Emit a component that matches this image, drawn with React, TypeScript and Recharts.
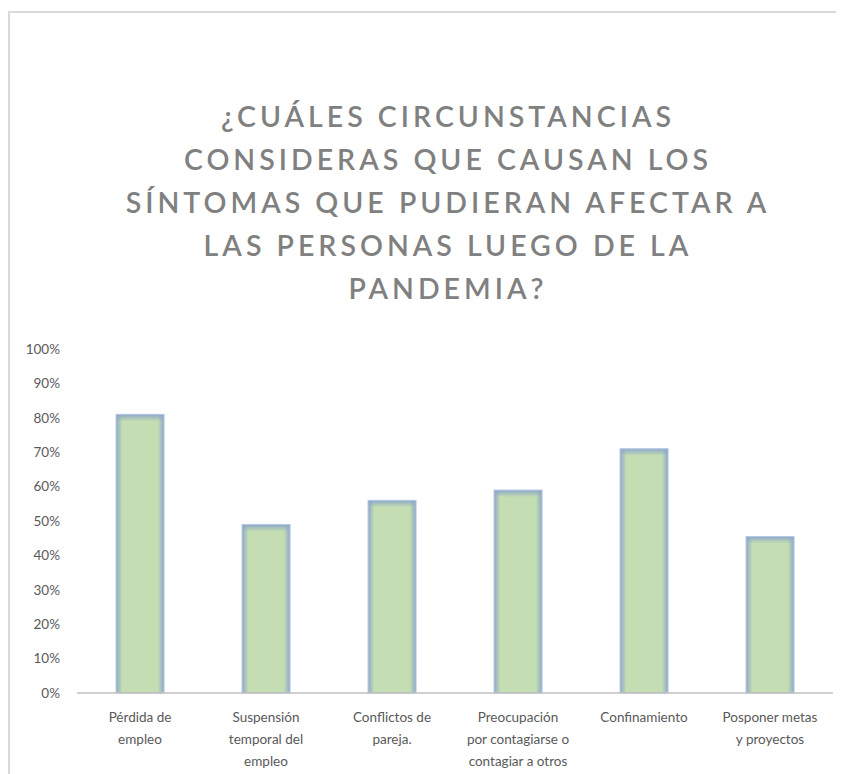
import React from 'react';
import { BarChart, Bar, XAxis, YAxis } from 'recharts';

const titleLines = [
  '¿CUÁLES CIRCUNSTANCIAS',
  'CONSIDERAS QUE CAUSAN LOS',
  'SÍNTOMAS QUE PUDIERAN AFECTAR A',
  'LAS PERSONAS LUEGO DE LA',
  'PANDEMIA?',
];

const categories = [
  'Pérdida de empleo',
  'Suspensión temporal del empleo',
  'Conflictos de pareja.',
  'Preocupación por contagiarse o contagiar a otros',
  'Confinamiento',
  'Posponer metas y proyectos',
];

// how each category label wraps under the axis
const categoryLines = [
  ['Pérdida de', 'empleo'],
  ['Suspensión', 'temporal del', 'empleo'],
  ['Conflictos de', 'pareja.'],
  ['Preocupación', 'por contagiarse o', 'contagiar a otros'],
  ['Confinamiento'],
  ['Posponer metas', 'y proyectos'],
];

const values = [0.81, 0.49, 0.56, 0.59, 0.71, 0.455];

const yTicks = [0, 0.1, 0.2, 0.3, 0.4, 0.5, 0.6, 0.7, 0.8, 0.9, 1];

const data = categories.map((name, i) => ({ name, value: values[i] }));

const labelFont = 'Lato, "Open Sans", sans-serif';

function CategoryTick(props: any) {
  const { x, y, index } = props;
  const lines = categoryLines[index] || [];
  return (
    <text x={x} y={y} textAnchor="middle" fill="#595959" fontSize={13.5} fontFamily={labelFont}>
      {lines.map((l, i) => (
        <tspan key={i} x={x} dy={i === 0 ? 21 : 22}>
          {l}
        </tspan>
      ))}
    </text>
  );
}

function BarShape(props: any) {
  const { x, y, width, height } = props;
  if (!height || height <= 0) return null;
  return (
    <g>
      <rect x={x} y={y} width={width} height={height} fill="url(#barSides)" />
      <rect x={x} y={y} width={width} height={Math.min(7, height)} fill="url(#barTop)" />
      <rect x={x} y={y} width={width} height={height} fill="none" stroke="#b4c7e7" strokeWidth={1} />
    </g>
  );
}

export default function App() {
  return (
    <>
      <style>{'html, body { overflow: hidden; }'}</style>
      <div
        style={{
          position: 'relative',
          marginTop: 3,
          width: 880,
          height: 761,
          borderTop: '2px solid #d9d9d9',
          borderLeft: '2px solid #d9d9d9',
          background: '#fff',
        }}
      >
        <div
          style={{
            position: 'absolute',
            left: 38,
            width: 800,
            top: 82,
            textAlign: 'center',
            fontFamily: labelFont,
            fontWeight: 600,
            fontSize: 28.5,
            lineHeight: '43px',
            letterSpacing: 4,
            color: '#808080',
          }}
        >
          {titleLines.map((t, i) => (
            <div key={i}>{t}</div>
          ))}
        </div>
        <div style={{ position: 'absolute', left: 0, top: 0 }}>
          <BarChart
            width={834}
            height={761}
            data={data}
            margin={{ top: 336, right: 11, bottom: 11, left: 10 }}
            barCategoryGap="31%"
          >
            <defs>
              <linearGradient id="barSides" x1="0" y1="0" x2="1" y2="0">
                <stop offset="0%" stopColor="#8ea8c8" />
                <stop offset="13%" stopColor="#c4ddb2" />
                <stop offset="87%" stopColor="#c4ddb2" />
                <stop offset="100%" stopColor="#8ea8c8" />
              </linearGradient>
              <linearGradient id="barTop" x1="0" y1="0" x2="0" y2="1">
                <stop offset="0%" stopColor="#8ea8c8" stopOpacity={1} />
                <stop offset="100%" stopColor="#8ea8c8" stopOpacity={0} />
              </linearGradient>
            </defs>
            <XAxis
              dataKey="name"
              interval={0}
              height={70}
              tickLine={false}
              axisLine={{ stroke: '#bfbfbf', strokeWidth: 1.5 }}
              tick={<CategoryTick />}
            />
            <YAxis
              width={57}
              domain={[0, 1]}
              ticks={yTicks}
              interval={0}
              axisLine={false}
              tickLine={false}
              tickSize={0}
              tickMargin={17}
              tickFormatter={(v: number) => `${Math.round(v * 100)}%`}
              tick={{ fill: '#595959', fontSize: 13.5, fontFamily: labelFont }}
            />
            <Bar dataKey="value" shape={<BarShape />} isAnimationActive={false} />
          </BarChart>
        </div>
      </div>
    </>
  );
}
